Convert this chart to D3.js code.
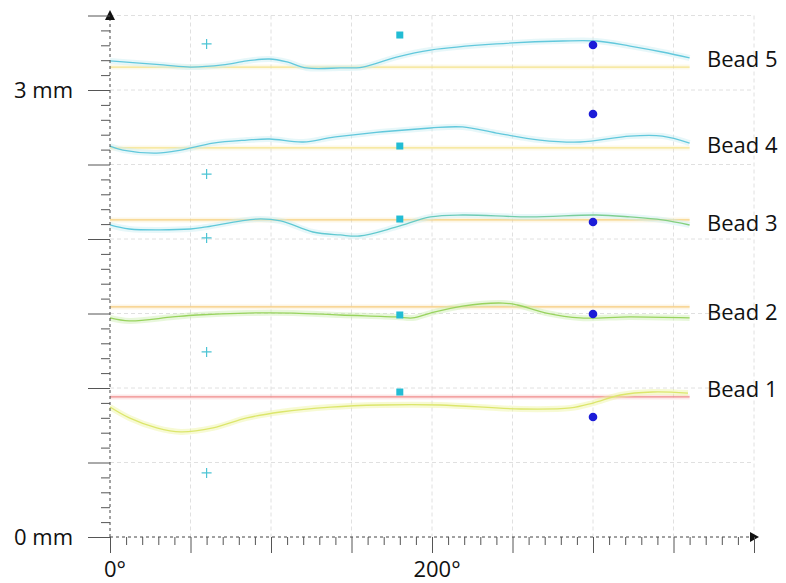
<!DOCTYPE html>
<html><head><meta charset="utf-8">
<script src="https://cdn.jsdelivr.net/npm/d3@7"></script>
<style>body{margin:0;background:#fff}</style>
</head><body><svg id="c" width="786" height="583"></svg>
<script>
// ---------- data (angle in degrees, thickness in mm) ----------
const beadNames = ["Bead 1", "Bead 2", "Bead 3", "Bead 4", "Bead 5"];
const refLevels = [0.940, 1.544, 2.128, 2.611, 3.154];
const labelLevels = [0.99, 1.51, 2.11, 2.63, 3.21];

const bead1Curve = [[0,0.872],[12,0.799],[29,0.732],[44,0.705],[64,0.732],[85,0.799],[106,0.839],[137,0.872],[168,0.886],[205,0.886],[255,0.859],[286,0.866],[300,0.899],[317,0.953],[337,0.973],[359,0.966]];
const bead2Curve = [[0,1.470],[12,1.450],[39,1.477],[54,1.490],[85,1.503],[114,1.503],[143,1.490],[178,1.477],[188,1.470],[199,1.503],[219,1.550],[244,1.570],[253,1.557],[271,1.503],[292,1.470],[323,1.477],[360,1.470]];
const bead3Curve = [[0,2.094],[12,2.067],[50,2.067],[60,2.081],[91,2.134],[106,2.121],[126,2.047],[143,2.027],[155,2.020],[178,2.081],[199,2.148],[219,2.161],[261,2.148],[302,2.161],[323,2.148],[343,2.128],[360,2.094]];
const bead4Curve = [[0,2.624],[8,2.597],[29,2.577],[44,2.597],[64,2.644],[85,2.664],[99,2.671],[120,2.651],[140,2.685],[199,2.745],[219,2.752],[240,2.711],[267,2.664],[292,2.651],[323,2.691],[343,2.691],[360,2.644]];
const bead5Curve = [[0,3.195],[33,3.168],[50,3.154],[70,3.168],[85,3.195],[99,3.208],[110,3.188],[122,3.148],[143,3.148],[157,3.154],[178,3.221],[199,3.268],[240,3.309],[281,3.329],[302,3.329],[323,3.295],[343,3.255],[360,3.215]];
const curves = [bead1Curve, bead2Curve, bead3Curve, bead4Curve, bead5Curve];

const plusAngle = 60, squareAngle = 180, dotAngle = 300;
const plusValues = [0.430, 1.242, 2.007, 2.436, 3.309];
const squareValues = [0.973, 1.490, 2.134, 2.624, 3.369];
const dotValues = [0.805, 1.497, 2.114, 2.839, 3.302];

const xLabelTicks = [0, 200];
const xLabelText = ["0°", "200°"];
const yLabelTicks = [0, 3];
const yLabelText = ["0 mm", "3 mm"];

// ---------- styles ----------
const curveColors = ["#dce66c", "#98d35e", "url(#g3)", "#62c8dc", "#62c8dc"];
const haloColors = ["#eef4a0", "#cdeeb0", "#c9eef2", "#c9eef2", "#c9eef2"];
const refColors = ["#f08c8c", "#f6cb7c", "#f6d07e", "#f4e38e", "#f4e38e"];

const svg = d3.select("#c");
const defs = svg.append("defs");
const g3 = defs.append("linearGradient").attr("id", "g3").attr("gradientUnits", "userSpaceOnUse")
  .attr("x1", 110).attr("x2", 690).attr("y1", 0).attr("y2", 0);
g3.append("stop").attr("offset", "0%").attr("stop-color", "#5ec8de");
g3.append("stop").attr("offset", "45%").attr("stop-color", "#62c9cf");
g3.append("stop").attr("offset", "100%").attr("stop-color", "#86d07c");

const x = d3.scaleLinear().domain([0, 400]).range([110, 754]);
const y = d3.scaleLinear().domain([0, 3.5]).range([537, 15.5]);

// grid
const gridG = svg.append("g").attr("stroke", "#e0e0e0").attr("stroke-dasharray", "4,3").attr("stroke-width", 1);
gridG.selectAll("line.v").data(d3.range(50, 401, 50)).join("line")
  .attr("x1", d => x(d)).attr("x2", d => x(d)).attr("y1", y(3.5)).attr("y2", y(0));
gridG.selectAll("line.h").data(d3.range(0.5, 3.51, 0.5)).join("line")
  .attr("x1", x(0)).attr("x2", x(400)).attr("y1", d => y(d)).attr("y2", d => y(d));

// reference lines
const line = d3.line().x(d => x(d[0])).y(d => y(d[1])).curve(d3.curveCatmullRom.alpha(0.5));
const refG = svg.append("g");
refLevels.forEach((v, i) => {
  refG.append("line").attr("x1", x(0)).attr("x2", x(360)).attr("y1", y(v)).attr("y2", y(v))
    .attr("stroke", refColors[i]).attr("stroke-opacity", 0.2).attr("stroke-width", 5);
  refG.append("line").attr("x1", x(0)).attr("x2", x(360)).attr("y1", y(v)).attr("y2", y(v))
    .attr("stroke", refColors[i]).attr("stroke-width", 1.3);
});

// curves
const curveG = svg.append("g").attr("fill", "none");
curves.forEach((c, i) => {
  curveG.append("path").attr("d", line(c)).attr("stroke", haloColors[i]).attr("stroke-opacity", 0.45).attr("stroke-width", 6);
  curveG.append("path").attr("d", line(c)).attr("stroke", curveColors[i]).attr("stroke-width", 1.3);
});

// markers
const mk = svg.append("g");
mk.selectAll("path.plus").data(plusValues).join("path")
  .attr("d", d => `M${x(plusAngle) - 5},${y(d)}H${x(plusAngle) + 5}M${x(plusAngle)},${y(d) - 5}V${y(d) + 5}`)
  .attr("stroke", "#4cc4d4").attr("stroke-width", 1.2).attr("fill", "none");
mk.selectAll("rect").data(squareValues).join("rect")
  .attr("x", x(squareAngle) - 3.5).attr("y", d => y(d) - 3.5).attr("width", 7).attr("height", 7)
  .attr("fill", "#22bcd4");
mk.selectAll("circle").data(dotValues).join("circle")
  .attr("cx", x(dotAngle)).attr("cy", d => y(d)).attr("r", 4.3).attr("fill", "#1c1cd8");

// axes
const axG = svg.append("g");
axG.append("line").attr("x1", x(0)).attr("x2", 755).attr("y1", y(0)).attr("y2", y(0))
  .attr("stroke", "#444").attr("stroke-dasharray", "3,3");
axG.append("line").attr("x1", x(0)).attr("x2", x(0)).attr("y1", y(0)).attr("y2", 16)
  .attr("stroke", "#444").attr("stroke-dasharray", "3,3");
axG.append("path").attr("d", `M${x(0)},10L${x(0) - 5},20L${x(0) + 5},20Z`).attr("fill", "#111");
axG.append("path").attr("d", `M759,${y(0)}L750,${y(0) - 5}L750,${y(0) + 5}Z`).attr("fill", "#111");

function styleAxis(sel) {
  sel.select(".domain").remove();
  sel.selectAll(".tick line").attr("stroke", "#555");
}
svg.append("g").attr("transform", `translate(0,${y(0)})`)
  .call(d3.axisBottom(x).tickValues(d3.range(0, 401, 10).filter(d => d % 50)).tickSize(8).tickFormat(""))
  .call(styleAxis);
svg.append("g").attr("transform", `translate(0,${y(0)})`)
  .call(d3.axisBottom(x).tickValues(d3.range(0, 401, 50)).tickSize(16).tickFormat(""))
  .call(styleAxis);
svg.append("g").attr("transform", `translate(${x(0)},0)`)
  .call(d3.axisLeft(y).tickValues(d3.range(1, 35).filter(d => d % 5).map(d => d / 10)).tickSize(9).tickFormat(""))
  .call(styleAxis);
svg.append("g").attr("transform", `translate(${x(0)},0)`)
  .call(d3.axisLeft(y).tickValues(d3.range(0, 3.51, 0.5)).tickSize(22).tickFormat(""))
  .call(styleAxis);

// axis labels
const font = "'Open Sans', sans-serif";
const fs = 22;
svg.append("g").selectAll("text").data(xLabelTicks).join("text")
  .attr("x", d => x(d) + 5).attr("y", 577).attr("text-anchor", "middle")
  .attr("font-family", font).attr("font-size", fs).attr("fill", "#111")
  .text((d, i) => xLabelText[i]);
svg.append("g").selectAll("text").data(yLabelTicks).join("text")
  .attr("x", 73).attr("y", d => y(d)).attr("dy", "0.36em").attr("text-anchor", "end")
  .attr("font-family", font).attr("font-size", fs).attr("fill", "#111")
  .text((d, i) => yLabelText[i]);

// bead labels
svg.append("g").selectAll("text").data(beadNames).join("text")
  .attr("x", 707).attr("y", (d, i) => y(labelLevels[i])).attr("dy", "0.36em")
  .attr("font-family", font).attr("font-size", fs).attr("fill", "#111")
  .text(d => d);
</script></body></html>
